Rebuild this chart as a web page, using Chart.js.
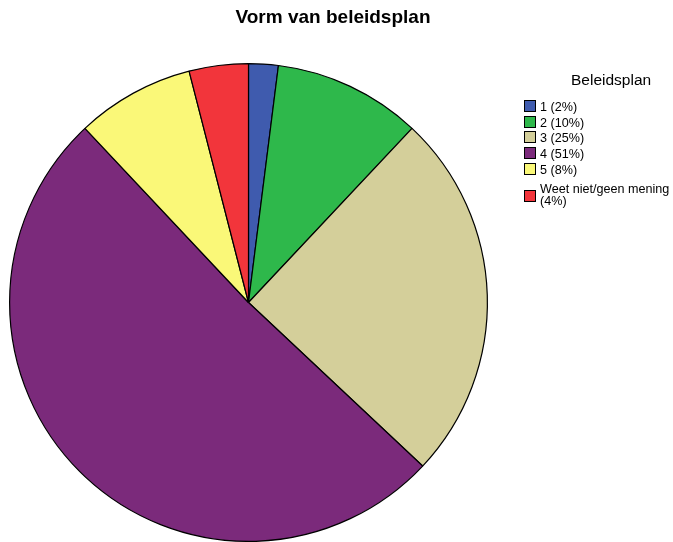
<!DOCTYPE html>
<html>
<head>
<meta charset="utf-8">
<script src="https://cdn.jsdelivr.net/npm/chart.js@4"></script>
<style>
  body { margin: 0; background: #fff; }
  #wrap { position: relative; width: 673px; height: 542px; overflow: hidden; }
  #title { position: absolute; left: 0; width: 666px; top: 7px; text-align: center; font: bold 19px "Liberation Sans", Arial, sans-serif; line-height: 19px; color: #000; }
  #legend { position: absolute; left: 522px; top: 72px; font-family: "Liberation Sans", Arial, sans-serif; color: #000; }
  #legend .head { position: absolute; left: 49px; top: -1px; font-size: 15.5px; white-space: nowrap; }
  #legend .item { position: absolute; left: 0; font-size: 12.6px; line-height: 12px; white-space: nowrap; }
  #legend .box { position: absolute; left: 2px; width: 12px; height: 12px; border: 1px solid #000; box-sizing: border-box; }
  #legend .txt { position: absolute; left: 18px; }
</style>
</head>
<body>
<div id="wrap">
  <canvas id="myChart" width="673" height="542"></canvas>
  <div id="title">Vorm van beleidsplan</div>
  <div id="legend"></div>
</div>
<script>
// answers for "Vorm van beleidsplan", percentages
const labels = ["1", "2", "3", "4", "5", "Weet niet/geen mening"]
const percents = [2, 10, 25, 51, 8, 4]
const colors = ["#3F5BAE", "#2EB84B", "#D4CF9A", "#7B2A7B", "#FAF878", "#F2353B"]

// legend drawn next to the pie
function buildLegend() {
  let legend = document.getElementById("legend")
  let html = '<div class="head">Beleidsplan</div>'
  let y = 28
  for (let i = 0; i < labels.length; i++) {
    let text = labels[i] + " (" + percents[i] + "%)"
    if (i == labels.length - 1) {
      text = labels[i] + "<br>(" + percents[i] + "%)"
      html += '<div class="item" style="top:' + (y + 3) + 'px"><div class="box" style="top:8px;background:' + colors[i] + '"></div>'
        + '<div class="txt" style="top:1px">' + text + '</div></div>'
    } else {
      html += '<div class="item" style="top:' + y + 'px"><div class="box" style="top:0;background:' + colors[i] + '"></div>'
        + '<div class="txt" style="top:1px">' + text + '</div></div>'
    }
    y += 15.7
  }
  legend.innerHTML = html
}

function drawChart() {
  let ctx = document.getElementById("myChart").getContext("2d")
  new Chart(ctx, {
    type: "pie",
    data: {
      labels: labels,
      datasets: [{
        data: percents,
        backgroundColor: colors,
        borderColor: "#000",
        borderWidth: 1.2
      }]
    },
    options: {
      responsive: false,
      animation: false,
      layout: { padding: { left: 9, right: 185, top: 63, bottom: 0 } },
      plugins: {
        legend: { display: false },
        tooltip: { enabled: false },
        title: { display: false }
      }
    }
  })
}

buildLegend()
drawChart()
</script>
</body>
</html>
